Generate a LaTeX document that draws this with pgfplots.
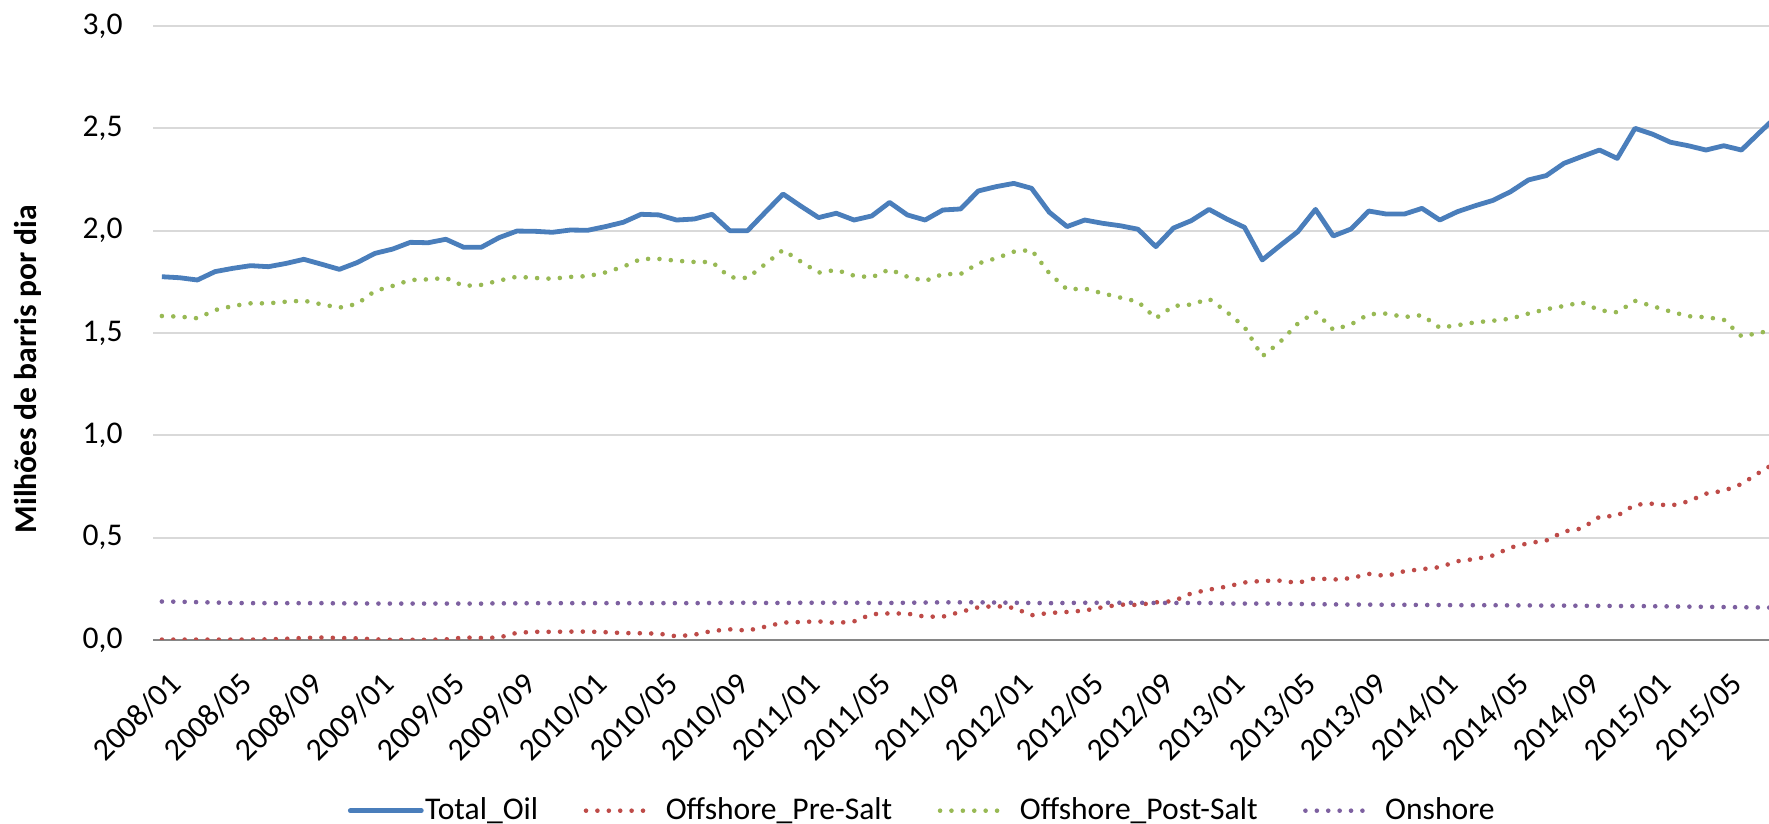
\documentclass[border=0pt]{standalone}
\usepackage{pgfplots}
\pgfplotsset{compat=1.18}
\usepackage{pgfplotstable}
\usepackage{fontspec}
\setmainfont{Carlito}
\definecolor{cT}{HTML}{4A7EBB}
\definecolor{cR}{HTML}{BE4B48}
\definecolor{cG}{HTML}{98B954}
\definecolor{cP}{HTML}{7D60A0}
\definecolor{cGrid}{HTML}{D9D9D9}
\definecolor{cAx}{HTML}{868686}

\pgfplotstableread{
m T R G P
0 1.775 0.002 1.583 0.188
1 1.770 0.002 1.580 0.187
2 1.759 0.002 1.572 0.185
3 1.800 0.002 1.612 0.183
4 1.816 0.002 1.632 0.181
5 1.829 0.002 1.645 0.180
6 1.824 0.003 1.645 0.180
7 1.840 0.006 1.653 0.180
8 1.860 0.010 1.658 0.180
9 1.836 0.012 1.640 0.180
10 1.811 0.010 1.624 0.179
11 1.844 0.008 1.642 0.179
12 1.889 0.003 1.705 0.178
13 1.910 0.001 1.730 0.178
14 1.943 0.001 1.759 0.178
15 1.941 0.001 1.762 0.178
16 1.958 0.003 1.769 0.178
17 1.919 0.012 1.730 0.178
18 1.919 0.010 1.735 0.178
19 1.966 0.012 1.756 0.179
20 1.998 0.035 1.775 0.179
21 1.997 0.040 1.769 0.180
22 1.992 0.040 1.765 0.180
23 2.003 0.041 1.774 0.180
24 2.002 0.041 1.778 0.180
25 2.020 0.038 1.796 0.180
26 2.041 0.034 1.824 0.180
27 2.080 0.033 1.862 0.180
28 2.077 0.031 1.862 0.180
29 2.052 0.018 1.853 0.180
30 2.057 0.026 1.847 0.180
31 2.080 0.044 1.847 0.181
32 2.000 0.052 1.772 0.182
33 2.000 0.046 1.769 0.182
34 2.090 0.065 1.837 0.181
35 2.179 0.085 1.906 0.181
36 2.120 0.088 1.849 0.182
37 2.064 0.091 1.795 0.182
38 2.085 0.083 1.808 0.182
39 2.052 0.091 1.780 0.182
40 2.072 0.126 1.772 0.181
41 2.138 0.130 1.811 0.181
42 2.077 0.129 1.775 0.182
43 2.052 0.114 1.754 0.183
44 2.101 0.114 1.788 0.184
45 2.106 0.137 1.788 0.184
46 2.194 0.160 1.840 0.184
47 2.215 0.166 1.865 0.183
48 2.231 0.157 1.897 0.182
49 2.207 0.121 1.906 0.181
50 2.090 0.132 1.792 0.180
51 2.020 0.137 1.713 0.181
52 2.052 0.144 1.717 0.182
53 2.036 0.160 1.694 0.182
54 2.024 0.173 1.673 0.182
55 2.007 0.171 1.653 0.182
56 1.922 0.184 1.572 0.181
57 2.013 0.190 1.632 0.181
58 2.049 0.228 1.639 0.181
59 2.104 0.246 1.667 0.181
60 2.057 0.261 1.603 0.178
61 2.016 0.281 1.529 0.178
62 1.857 0.289 1.386 0.178
63 1.927 0.290 1.456 0.178
64 1.995 0.279 1.546 0.176
65 2.104 0.302 1.603 0.175
66 1.974 0.295 1.516 0.174
67 2.008 0.302 1.542 0.173
68 2.096 0.323 1.592 0.173
69 2.081 0.313 1.595 0.172
70 2.081 0.336 1.578 0.172
71 2.109 0.346 1.587 0.171
72 2.052 0.356 1.526 0.171
73 2.093 0.385 1.538 0.170
74 2.122 0.396 1.552 0.170
75 2.148 0.413 1.560 0.170
76 2.191 0.452 1.570 0.169
77 2.248 0.473 1.595 0.169
78 2.269 0.486 1.616 0.168
79 2.329 0.530 1.632 0.168
80 2.362 0.545 1.650 0.167
81 2.394 0.602 1.611 0.167
82 2.353 0.607 1.601 0.166
83 2.500 0.661 1.657 0.166
84 2.471 0.666 1.631 0.165
85 2.432 0.656 1.605 0.164
86 2.415 0.677 1.582 0.163
87 2.394 0.715 1.577 0.162
88 2.415 0.729 1.565 0.161
89 2.394 0.762 1.484 0.160
90 2.478 0.818 1.500 0.159
91 2.560 0.870 1.520 0.158
}\data

\tikzset{
  dotline/.style={line width=2.3bp, line cap=round, dash pattern=on 0bp off 5.7bp},
}
\pgfplotsset{
  leglong/.style={legend image code/.code={\draw[##1, line cap=round] (0bp,0bp) -- (35.5bp,0bp);}},
  legshort/.style={legend image code/.code={\draw[##1] (0bp,0bp) -- (31.5bp,0bp); \path (38bp,0bp);}},
}

\begin{document}
\fontsize{15.8bp}{19bp}\selectfont
\begin{tikzpicture}
\useasboundingbox (0,0) rectangle (884.5bp,412bp);
\begin{axis}[
  at={(76.5bp,92bp)}, anchor=south west,
  scale only axis, width=808bp, height=307bp,
  xmin=-0.5, xmax=90.55, ymin=0, ymax=3,
  axis lines*=left,
  y axis line style={draw=none},
  x axis line style={draw=cAx, line width=1.1bp, -},
  tick style={draw=none},
  major tick length=0pt,
  ymajorgrids, major grid style={draw=cGrid, line width=0.9bp},
  ytick={0,0.5,1,1.5,2,2.5,3},
  yticklabels={{0,0},{0,5},{1,0},{1,5},{2,0},{2,5},{3,0}},
  xtick={0,4,...,88},
  xticklabels={2008/01,2008/05,2008/09,2009/01,2009/05,2009/09,2010/01,2010/05,2010/09,2011/01,2011/05,2011/09,2012/01,2012/05,2012/09,2013/01,2013/05,2013/09,2014/01,2014/05,2014/09,2015/01,2015/05},
  tick label style={font=\fontsize{15.8bp}{19bp}\selectfont, text=black},
  yticklabel style={anchor=east, inner sep=0pt, xshift=-15bp},
  xticklabel style={inner sep=0pt, xshift=2.5bp, yshift=-15bp, rotate=45, anchor=north east},
  ylabel={\bfseries Milhões de barris por dia},
  every axis y label/.style={at={(axis description cs:-0.0774,0.441)}, rotate=90, anchor=center, font=\fontsize{15.8bp}{19bp}\selectfont},
  legend columns=4,
  legend style={at={(axis description cs:0.4759,-0.278)}, anchor=center, draw=none, fill=none,
    font=\fontsize{15.8bp}{19bp}\selectfont,
    /tikz/every even column/.append style={column sep=22bp},
    nodes={inner xsep=0.75bp, inner ysep=1.5bp}},
]
\addplot[color=cT, line width=2.4bp, line join=round, leglong]
  table[x=m, y=T] {\data};
\addlegendentry{Total\_Oil}
\addplot[color=cR, dotline, legshort]
  table[x=m, y=R] {\data};
\addlegendentry{Offshore\_Pre-Salt}
\addplot[color=cG, dotline, legshort]
  table[x=m, y=G] {\data};
\addlegendentry{Offshore\_Post-Salt}
\addplot[color=cP, dotline, legshort]
  table[x=m, y=P] {\data};
\addlegendentry{Onshore}
\end{axis}
\end{tikzpicture}
\end{document}
